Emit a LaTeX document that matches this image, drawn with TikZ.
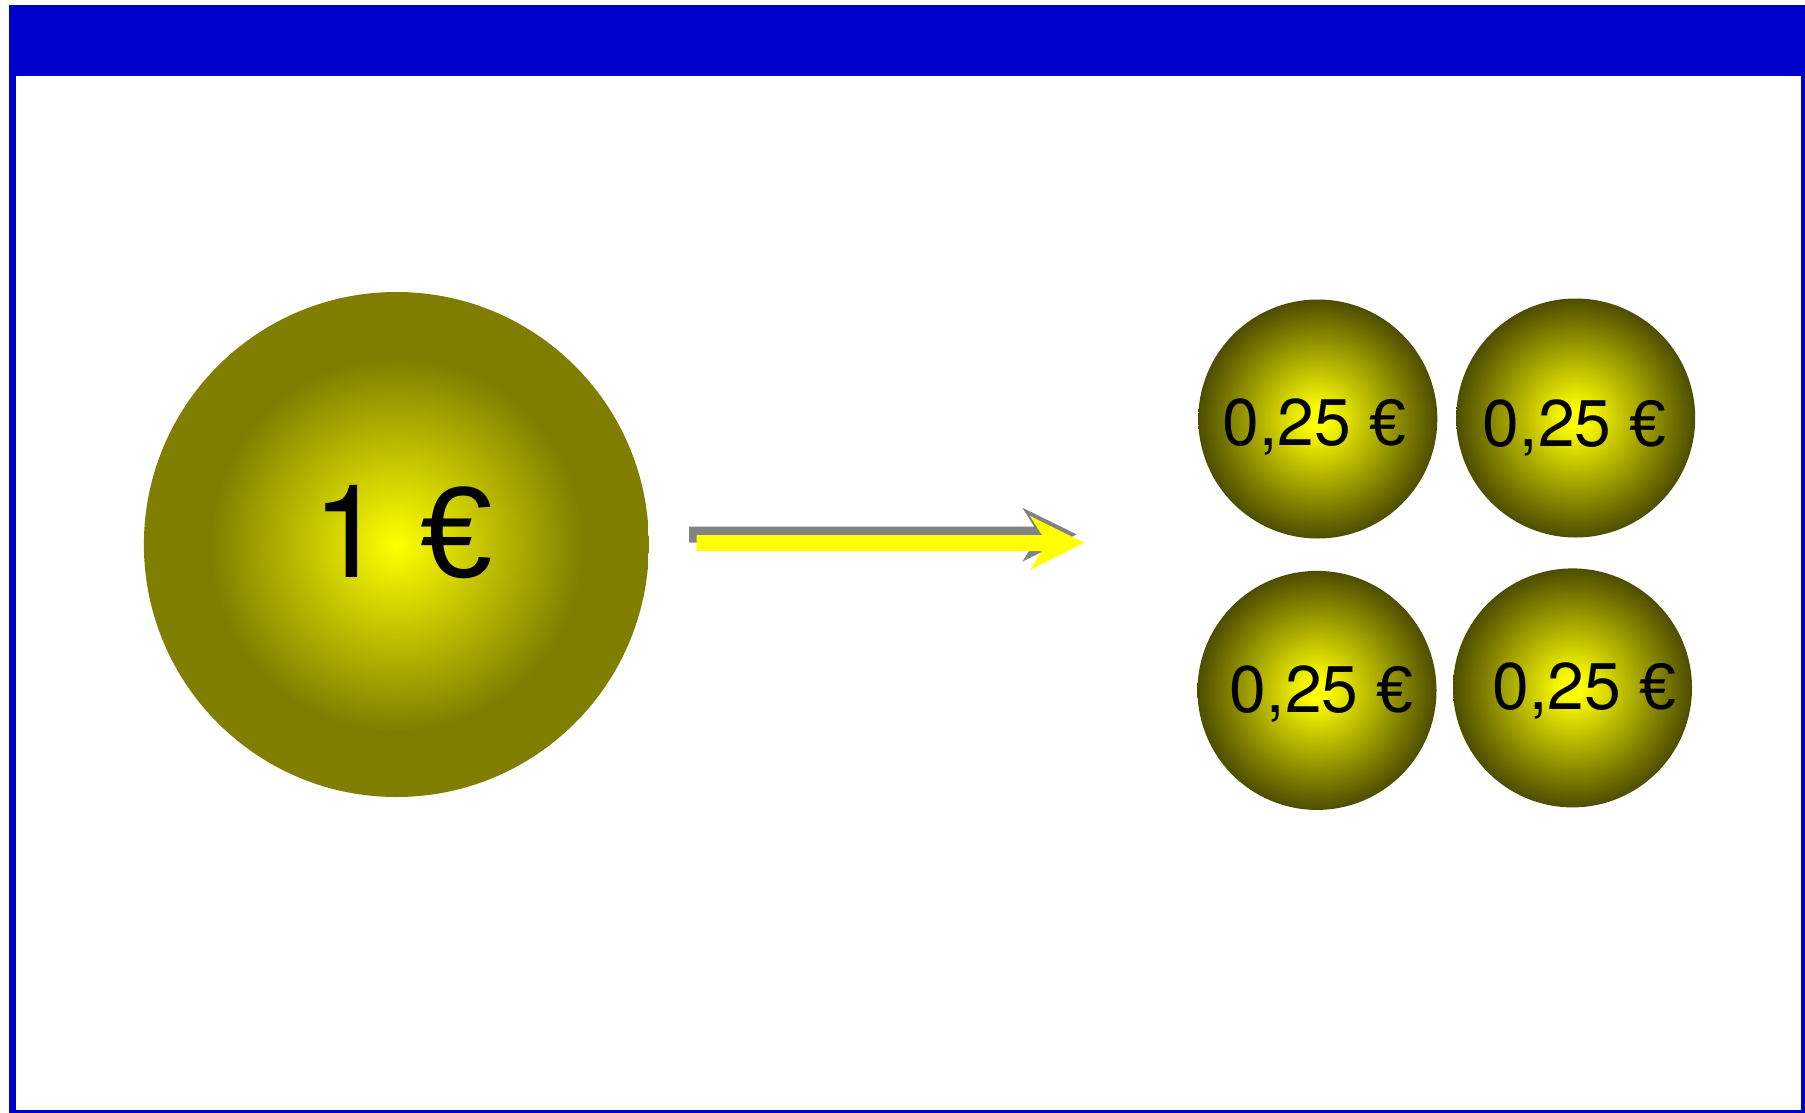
\documentclass[tikz,border=0pt]{standalone}
\usepackage{fontspec}
\setmainfont{TeX Gyre Heros}
\newfontfamily\eurofont{Liberation Sans}
\newcommand{\euro}{{\eurofont €}}
\definecolor{frameblue}{RGB}{0,0,204}
\definecolor{coinyellow}{RGB}{255,255,0}
\definecolor{bigolive}{RGB}{127,126,0}
\definecolor{smallolive}{RGB}{77,77,0}
\definecolor{shadowgray}{RGB}{130,130,130}
\definecolor{arrowyellow}{RGB}{255,255,0}
\pgfdeclareradialshading{bigcoinshade}{\pgfpoint{0bp}{0bp}}{color(0bp)=(coinyellow); color(18.5bp)=(bigolive); color(50bp)=(bigolive)}
\pgfdeclareradialshading{smallcoinshade}{\pgfpoint{0bp}{0bp}}{color(0bp)=(coinyellow); color(2bp)=(coinyellow); color(25bp)=(smallolive); color(50bp)=(smallolive)}
\tikzset{
  bigcoin/.style={circle, inner sep=0pt, minimum size=252.5pt, shading=bigcoinshade},
  smallcoin/.style={circle, inner sep=0pt, minimum size=119.5pt, shading=smallcoinshade},
  bigtext/.style={inner sep=0pt, anchor=base, font=\fontsize{65pt}{65pt}\selectfont},
  smalltext/.style={inner sep=0pt, anchor=base, font=\fontsize{33pt}{33pt}\selectfont},
}
\begin{document}
\begin{tikzpicture}[x=0.5pt,y=-0.5pt]
\useasboundingbox (0,0) rectangle (1805,1113);
\fill[white] (0,0) rectangle (1805,1113);
% frame with header bar
\fill[frameblue] (9,5.5) rectangle (1805,1113);
\fill[white] (16,76) rectangle (1801,1110);
% big coin
\node[bigcoin] (big) at (396.4,544.5) {};
\node[bigtext] (bigt) at (402.5,577.5) {1 \euro};
% small coins
\node[smallcoin] (c1) at (1317.8,419) {};
\node[smallcoin] (c2) at (1575.7,418) {};
\node[smallcoin] (c3) at (1317,690.4) {};
\node[smallcoin] (c4) at (1572.5,687.9) {};
\node[smalltext] (t1) at (1314.2,445) {0,25 \euro};
\node[smalltext] (t2) at (1574.7,446) {0,25 \euro};
\node[smalltext] (t3) at (1321.7,712.7) {0,25 \euro};
\node[smalltext] (t4) at (1584.5,709) {0,25 \euro};
% block arrow: shadow, then arrow
\fill[shadowgray, shift={(-7.7,-8.3)}]
  (696.7,535) -- (1042,535) -- (1030,516) -- (1084.3,542.7) -- (1030,570) -- (1042,551) -- (696.7,551) -- cycle;
\fill[arrowyellow]
  (696.7,535) -- (1042,535) -- (1030,516) -- (1084.3,542.7) -- (1030,570) -- (1042,551) -- (696.7,551) -- cycle;
\end{tikzpicture}
\end{document}
